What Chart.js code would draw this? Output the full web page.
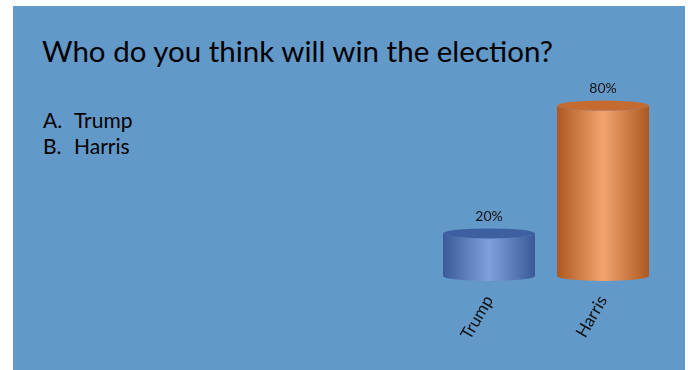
<!DOCTYPE html>
<html>
<head>
<meta charset="utf-8">
<script src="https://cdn.jsdelivr.net/npm/chart.js@4.4.1/dist/chart.umd.min.js"></script>
<style>
  html, body { margin: 0; padding: 0; background: #ffffff; }
  #slide {
    position: absolute; left: 13px; top: 6px; width: 672px; height: 364px;
    background: #6399c8;
  }
  #title {
    position: absolute; left: 42px; top: 33px;
    font-family: Lato, sans-serif; font-size: 29.5px; color: #000;
    white-space: nowrap;
  }
  #options {
    position: absolute; left: 43px; top: 107px;
    font-family: Lato, sans-serif; font-size: 21px; color: #000; line-height: 26px;
  }
  #options span { display: inline-block; width: 31px; }
  #chartBox { position: absolute; left: 0; top: 0; width: 688px; height: 370px; }
</style>
</head>
<body>
<div id="slide"></div>
<div id="title">Who do you think will win the election?</div>
<div id="options">
  <div><span>A.</span>Trump</div>
  <div><span>B.</span>Harris</div>
</div>
<div id="chartBox"><canvas id="pollChart"></canvas></div>
<script>
const candidates = ['Trump', 'Harris'];
const votePercent = [20, 80];

// side shading (edge, middle, edge) and lid colour per candidate
const bodyColors = [
  ['#3a5997', '#819fdc', '#3a5997'],
  ['#ad5821', '#f3a46e', '#ad5821']
];
const lidColors = ['#3e5fa0', '#c56b31'];

const cylinderPlugin = {
  id: 'cylinders',
  afterDatasetsDraw(chart) {
    const ctx = chart.ctx;
    const meta = chart.getDatasetMeta(0);
    meta.data.forEach((bar, i) => {
      const rx = bar.width / 2;
      const ry = 5;
      const left = bar.x - rx;
      const right = bar.x + rx;
      const top = bar.y;
      const base = bar.base;

      const grad = ctx.createLinearGradient(left, 0, right, 0);
      grad.addColorStop(0, bodyColors[i][0]);
      grad.addColorStop(0.5, bodyColors[i][1]);
      grad.addColorStop(1, bodyColors[i][2]);

      ctx.save();
      ctx.beginPath();
      ctx.moveTo(left, top);
      ctx.lineTo(left, base);
      ctx.ellipse(bar.x, base, rx, ry, 0, Math.PI, 0, true);
      ctx.lineTo(right, top);
      ctx.ellipse(bar.x, top, rx, ry, 0, 0, Math.PI, false);
      ctx.closePath();
      ctx.fillStyle = grad;
      ctx.fill();

      // lid
      ctx.beginPath();
      ctx.ellipse(bar.x, top, rx, ry, 0, 0, Math.PI * 2);
      ctx.fillStyle = lidColors[i];
      ctx.fill();

      // value label
      ctx.fillStyle = '#111';
      ctx.font = '14px Lato, sans-serif';
      ctx.textAlign = 'center';
      ctx.textBaseline = 'bottom';
      ctx.fillText(votePercent[i] + '%', bar.x, top - ry - 5);
      ctx.restore();
    });
  }
};

new Chart(document.getElementById('pollChart'), {
  type: 'bar',
  data: {
    labels: candidates,
    datasets: [{
      data: votePercent,
      backgroundColor: 'rgba(0,0,0,0)',
      borderWidth: 0,
      categoryPercentage: 1,
      barPercentage: 0.807
    }]
  },
  options: {
    responsive: true,
    maintainAspectRatio: false,
    animation: false,
    layout: { padding: { left: 432, right: 28, top: 63, bottom: 0 } },
    plugins: {
      legend: { display: false },
      tooltip: { enabled: false }
    },
    scales: {
      x: {
        grid: { display: false },
        border: { display: false },
        ticks: {
          color: '#111',
          font: { family: 'Lato, sans-serif', size: 17 },
          minRotation: 60,
          maxRotation: 60,
          padding: 8
        },
        afterFit(scale) { scale.height = 94; }
      },
      y: {
        display: false,
        min: 0,
        max: 100
      }
    }
  },
  plugins: [cylinderPlugin]
});
</script>
</body>
</html>
